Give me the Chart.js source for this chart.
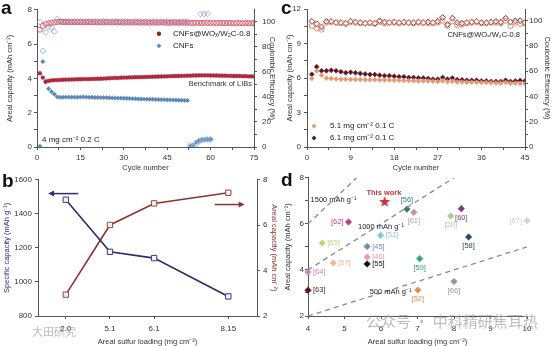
<!DOCTYPE html>
<html>
<head>
<meta charset="utf-8">
<script src="https://cdn.jsdelivr.net/npm/chart.js@4.4.1/dist/chart.umd.min.js"></script>
<style>
  body { margin: 0; background: #fff; }
  #wrap { position: relative; width: 554px; height: 346px; overflow: hidden; font-family: "Liberation Sans", Arial, sans-serif; }
  #wrap canvas { position: absolute; }
  .tag { position: absolute; font-size: 19px; font-weight: bold; color: #111; line-height: 19px; }
  .wm { position: absolute; white-space: nowrap; color: rgba(160,160,160,0.7); font-family: "Noto Sans CJK SC", sans-serif; }
</style>
</head>
<body>
<div id="wrap">
  <canvas id="chartA" width="280" height="172" style="left:0;top:0"></canvas>
  <canvas id="chartC" width="274" height="172" style="left:280px;top:0"></canvas>
  <canvas id="chartB" width="280" height="174" style="left:0;top:172px"></canvas>
  <canvas id="chartD" width="274" height="174" style="left:280px;top:172px"></canvas>
  <div class="tag" style="left:1px;top:-2px">a</div>
  <div class="tag" style="left:281px;top:-2px">c</div>
  <div class="tag" style="left:2px;top:171px">b</div>
  <div class="tag" style="left:281px;top:170px">d</div>
  <div class="wm" style="left:32px;top:323px;font-size:11px">大田研究</div>
  <div class="wm" style="left:366px;top:310px;font-size:15px">公众号 · 中科精研焦耳热</div>
</div>
<script>
// ---- panel a : 4 mg cm-2, 0.2 C (cycles start at 1)
const aRedCap = [
  4.30, 4.05, 3.82, 3.86, 3.88, 3.90, 3.90, 3.91, 3.92, 3.93,
  3.93, 3.94, 3.94, 3.95, 3.95, 3.96, 3.96, 3.96, 3.97, 3.97,
  3.98, 3.98, 3.99, 4.00, 4.01, 4.02, 4.03, 4.03, 4.04, 4.05,
  4.05, 4.06, 4.06, 4.07, 4.07, 4.08, 4.08, 4.09, 4.09, 4.10,
  4.10, 4.11, 4.11, 4.12, 4.12, 4.13, 4.13, 4.14, 4.14, 4.15,
  4.15, 4.16, 4.16, 4.17, 4.17, 4.18, 4.18, 4.18, 4.18, 4.17,
  4.17, 4.17, 4.16, 4.16, 4.16, 4.15, 4.15, 4.14, 4.14, 4.14,
  4.13, 4.13, 4.12, 4.12, 4.11
];
const aRedCE = [
  93.5, 96.5, 98.0, 98.5, 99.0, 99.3, 99.6, 99.8, 99.6, 99.5,
  99.4, 99.5, 99.6, 99.4, 99.5, 99.3, 99.4, 99.5, 99.3, 99.4,
  99.2, 99.4, 99.3, 99.5, 99.2, 99.3, 99.4, 99.2, 99.3, 99.1,
  99.3, 99.2, 99.1, 99.3, 99.2, 99.0, 99.2, 99.1, 99.0, 99.2,
  99.1, 99.0, 99.2, 99.0, 99.1, 98.9, 99.1, 99.0, 98.9, 99.1,
  99.0, 98.9, 99.0, 98.8, 99.0, 98.9, 98.8, 99.0, 98.9, 98.8,
  98.9, 98.7, 98.9, 98.8, 98.7, 98.9, 98.8, 98.6, 98.8, 98.7,
  98.6, 98.8, 98.7, 98.6, 98.7
];
const aBlueCap = [
  0.05, 4.98, 3.78, 3.40, 3.22, 3.08, 2.92, 2.90, 2.90, 2.91,
  2.91, 2.90, 2.91, 2.90, 2.91, 2.92, 2.91, 2.90, 2.90, 2.89,
  2.89, 2.88, 2.88, 2.87, 2.87, 2.86, 2.86, 2.85, 2.85, 2.84,
  2.84, 2.83, 2.82, 2.81, 2.80, 2.80, 2.79, 2.79, 2.78, 2.78,
  2.77, 2.77, 2.76, 2.76, 2.75, 2.75, 2.74, 2.74, 2.73, 2.73,
  2.72, 2.71
];
const aBlueCE = [
  99.5, 76.5, 91.5, 95.5, 95.0, 92.0, 102.0, 100.0, 99.8, 100.0,
  100.0, 99.8, 100.0, 99.9, 100.0, 99.8, 100.0, 99.9, 99.8, 100.0,
  99.9, 99.8, 100.0, 99.9, 99.8, 100.0, 99.9, 99.8, 99.9, 100.0,
  99.9, 99.8, 99.9, 100.0, 99.8, 99.9, 99.8, 99.9, 100.0, 99.8,
  99.9, 99.8, 99.9, 99.8, 100.0, 99.9, 99.8, 99.9, 99.8, 99.9,
  99.8, 99.9
];
// CNFs after failure, cycles 53-60
const aBlueCapTail = [0.05, 0.12, 0.28, 0.38, 0.42, 0.43, 0.44, 0.45];
const aBlueCETail = [1.5, 0.3, 2.5, 4.5, 5.5, 5.8, 6.0, 6.0];
const aBlueCEHighCycles = [56.5, 57.8, 59];
const aBlueCEHigh = [106, 106, 106];

// ---- panel b : rate vs sulfur loading
const bLoadings = ['2.0', '5.1', '6.1', '8.15'];
const bSlots = [1, 2, 3, 4.68];
const bSpecific = [1483, 1177, 1140, 915];
const bAreal = [2.94, 6.01, 6.96, 7.43];

// ---- panel c : 0.1 C, two loadings (cycles start at 1)
const cCap51 = [
  5.96, 6.6, 6.25, 5.98, 5.95, 5.92, 5.9, 5.9, 5.88, 5.87,
  5.86, 5.85, 5.85, 5.84, 5.83, 5.82, 5.82, 5.8, 5.8, 5.78,
  5.77, 5.76, 5.75, 5.74, 5.73, 5.72, 5.7, 5.75, 5.68, 5.72,
  5.66, 5.65, 5.64, 5.63, 5.62, 5.6, 5.6, 5.58, 5.57, 5.56,
  5.6, 5.55, 5.55, 5.53, 5.5
];
const cCap61 = [
  6.33, 6.97, 6.62, 6.62, 6.68, 6.62, 6.54, 6.45, 6.5, 6.45,
  6.4, 6.35, 6.3, 6.3, 6.25, 6.2, 6.2, 6.15, 6.1, 6.1,
  6.05, 6.05, 6.0, 6.0, 5.95, 5.9, 5.9, 6.05, 5.9, 6.0,
  5.85, 5.85, 5.8, 5.8, 5.8, 5.75, 5.75, 5.7, 5.7, 5.7,
  5.8, 5.7, 5.75, 5.78, 5.75
];
const cCE51 = [
  96, 94, 93, 98.5, 99, 98.5, 98, 97.5, 99, 98.5,
  98, 98, 98, 97.5, 99, 98, 98.5, 98.5, 98, 98.5,
  98.5, 98, 98.5, 98.5, 98, 98, 98.5, 100, 96, 99.5,
  96.5, 97, 98, 98.5, 99, 98, 98, 98.5, 98.5, 98,
  100, 96, 98.5, 97.5, 98
];
const cCE61 = [
  99.5, 97.5, 95, 99.5, 99.5, 98.5, 98.5, 98, 99.5, 99,
  98.5, 98, 98.5, 98, 100, 99, 98.5, 99, 98.5, 99,
  98.5, 98.5, 99, 98.5, 99, 98.5, 99.5, 102.5, 97, 102,
  98.5, 98, 98.5, 99, 99.5, 98.5, 98.5, 99, 99.5, 99,
  102, 99, 100, 100, 98.5
];

// ---- panel d : comparison with literature
const refLabels = ['[56]', '[61]', '[60]', '[20]', '[67]', '[58]', '[62]', '[51]', '[65]', '[45]', '[46]', '[55]', '[57]', '[59]', '[64]', '[63]', '[52]', '[66]'];
const refLoading = [6.71, 6.9, 8.2, 7.91, 10.0, 8.4, 5.11, 5.99, 4.39, 5.62, 5.62, 5.62, 4.69, 7.06, 4.0, 4.0, 7.01, 8.0];
const refAreal = [6.64, 6.5, 6.66, 6.34, 6.14, 5.43, 6.08, 5.5, 5.17, 5.02, 4.56, 4.26, 4.3, 4.49, 3.91, 3.12, 3.13, 3.5];
const refColors = ['#2e7d6e', '#b49aa8', '#7b3f80', '#a9c99a', '#cdd4d4', '#2e4a66', '#c2417e', '#7fcccc', '#cccc7a', '#6f8eaa', '#e79aac', '#111111', '#eab799', '#34a57a', '#c787b8', '#5a1426', '#d8904e', '#9a92b0'];
const refPlacement = ['above', 'below', 'below', 'below', 'left', 'below', 'left', 'right', 'right', 'right', 'right', 'right', 'right', 'below', 'right', 'right', 'below', 'below'];
const thisWorkLoading = [6.1];
const thisWorkAreal = [6.95];
const guide1500 = { x: [4, 5.333], y: [6, 8] };
const guide1000 = { x: [4, 8], y: [4, 8] };
const guide500 = { x: [4, 10], y: [2, 5] };

Chart.defaults.font.family = '"Liberation Sans", Arial, sans-serif';
Chart.defaults.font.size = 8;
Chart.defaults.color = '#333';
Chart.defaults.animation = false;
Chart.defaults.plugins.legend.display = false;
Chart.defaults.plugins.tooltip.enabled = false;

const AXIS = '#555';
const FONT = '"Liberation Sans", Arial, sans-serif';

function fixW(w) { return s => { s.width = w; }; }
function fixH(h) { return s => { s.height = h; }; }
function gridOpts() { return { drawOnChartArea: false, tickLength: 3, color: AXIS }; }
function borderOpts() { return { color: AXIS, width: 1 }; }
function titleOpts(text, pad, color) {
  return { display: true, text: text, color: color || '#333', font: { size: 7.5 }, padding: { top: pad, bottom: 0 } };
}
function byCycle(vals, first) { return vals.map((y, i) => ({ x: first + i, y: y })); }
function xy(xs, ys) { return ys.map((y, i) => ({ x: xs[i], y: y })); }

function label(ctx, s, x, y, align, color, font) {
  ctx.font = font || ('7.5px ' + FONT);
  ctx.fillStyle = color || '#333';
  ctx.textAlign = align || 'left';
  ctx.textBaseline = 'middle';
  ctx.fillText(s, x, y);
}
function dot(ctx, x, y, r, color, diamond) {
  ctx.fillStyle = color;
  ctx.beginPath();
  if (diamond) {
    ctx.moveTo(x - r, y); ctx.lineTo(x, y - r); ctx.lineTo(x + r, y); ctx.lineTo(x, y + r); ctx.closePath();
  } else {
    ctx.arc(x, y, r, 0, Math.PI * 2);
  }
  ctx.fill();
}
function arrow(ctx, x1, y1, x2, color) {
  const dir = x2 > x1 ? 1 : -1;
  ctx.strokeStyle = color; ctx.fillStyle = color; ctx.lineWidth = 1.5;
  ctx.beginPath(); ctx.moveTo(x1, y1); ctx.lineTo(x2 - dir * 4, y1); ctx.stroke();
  ctx.beginPath(); ctx.moveTo(x2, y1); ctx.lineTo(x2 - dir * 6, y1 - 3); ctx.lineTo(x2 - dir * 6, y1 + 3); ctx.closePath(); ctx.fill();
}
function starImage(size, color) {
  const c = document.createElement('canvas');
  c.width = c.height = size;
  const g = c.getContext('2d');
  g.fillStyle = color;
  g.beginPath();
  for (let i = 0; i < 10; i++) {
    const r = i % 2 ? size * 0.2 : size * 0.5;
    const a = -Math.PI / 2 + i * Math.PI / 5;
    g.lineTo(size / 2 + r * Math.cos(a), size / 2 + r * Math.sin(a));
  }
  g.closePath();
  g.fill();
  return c;
}

// ---------------- panel a
const textA = {
  id: 'textA',
  afterDatasetsDraw(chart) {
    const { ctx, chartArea: ca } = chart;
    ctx.save();
    label(ctx, 'Benchmark of LIBs', ca.right - 2, chart.scales.y.getPixelForValue(3.66), 'right');
    label(ctx, '4 mg cm⁻² 0.2 C', ca.left + 5, ca.bottom - 7, 'left', '#222', '8px ' + FONT);
    dot(ctx, ca.left + 122, ca.top + 24, 2.2, '#8e2233');
    label(ctx, 'CNFs@WOₓ/W₂C-0.8', ca.left + 136, ca.top + 24, 'left', '#222', '8px ' + FONT);
    dot(ctx, ca.left + 122, ca.top + 36, 2.4, '#5a89b8', true);
    label(ctx, 'CNFs', ca.left + 136, ca.top + 36, 'left', '#222', '8px ' + FONT);
    ctx.restore();
  }
};

new Chart(document.getElementById('chartA'), {
  type: 'scatter',
  data: {
    datasets: [
      { data: byCycle(aRedCE, 1), yAxisID: 'y2', pointStyle: 'circle', pointRadius: 2.6, pointBorderWidth: 0.9, borderColor: '#d65a6c', backgroundColor: 'rgba(255,255,255,0)' },
      { data: byCycle(aBlueCE, 1).concat(byCycle(aBlueCETail, 53), xy(aBlueCEHighCycles, aBlueCEHigh)), yAxisID: 'y2', pointStyle: 'rectRot', pointRadius: 2.9, pointBorderWidth: 0.9, borderColor: '#8fadcf', backgroundColor: 'rgba(255,255,255,0)' },
      { data: byCycle(aRedCap, 1), pointStyle: 'circle', pointRadius: 1.9, pointBorderWidth: 0.5, borderColor: '#a8263a', backgroundColor: '#b02a3e' },
      { data: byCycle(aBlueCap, 1).concat(byCycle(aBlueCapTail, 53)), pointStyle: 'rectRot', pointRadius: 2.2, pointBorderWidth: 0.5, borderColor: '#5a89b8', backgroundColor: '#5a89b8' }
    ]
  },
  options: {
    responsive: false,
    layout: { padding: { top: 9 } },
    scales: {
      x: { type: 'linear', min: 0, max: 75, afterFit: fixH(25),
        ticks: { stepSize: 7.5, padding: 3, autoSkip: false, maxRotation: 0, callback: v => (v % 15 === 0 ? String(v) : '') },
        grid: gridOpts(), border: borderOpts(), title: titleOpts('Cycle number', 0.5) },
      y: { type: 'linear', min: 0, max: 8, afterFit: fixW(37),
        ticks: { stepSize: 1, padding: 2, autoSkip: false, callback: v => (v % 2 === 0 ? String(v) : '') },
        grid: gridOpts(), border: borderOpts(), title: titleOpts('Areal capacity (mAh cm⁻²)', 5) },
      y2: { type: 'linear', position: 'right', min: 0, max: 109.3, afterFit: fixW(26),
        ticks: { stepSize: 10, includeBounds: false, padding: 5, autoSkip: false, callback: v => (v % 20 === 0 && v <= 100 ? String(v) : '') },
        grid: gridOpts(), border: borderOpts(), title: titleOpts('Coulombic Efficiency (%)', 3.5) }
    }
  },
  plugins: [textA]
});

// ---------------- panel c
const textC = {
  id: 'textC',
  afterDatasetsDraw(chart) {
    const { ctx, chartArea: ca } = chart;
    ctx.save();
    label(ctx, 'CNFs@WOₓ/W₂C-0.8', ca.right - 5, ca.top + 26, 'right', '#222', '7.5px ' + FONT);
    dot(ctx, ca.left + 7, ca.bottom - 21, 2.4, '#e39a72', true);
    label(ctx, '5.1 mg cm⁻² 0.1 C', ca.left + 23, ca.bottom - 21, 'left', '#222', '8px ' + FONT);
    dot(ctx, ca.left + 7, ca.bottom - 9, 2.4, '#5e1424', true);
    label(ctx, '6.1 mg cm⁻² 0.1 C', ca.left + 23, ca.bottom - 9, 'left', '#222', '8px ' + FONT);
    ctx.restore();
  }
};

new Chart(document.getElementById('chartC'), {
  type: 'scatter',
  data: {
    datasets: [
      { data: byCycle(cCE51, 1), yAxisID: 'y2', pointStyle: 'circle', pointRadius: 2.6, pointBorderWidth: 1, borderColor: '#e0876a', backgroundColor: 'rgba(255,255,255,0)' },
      { data: byCycle(cCE61, 1), yAxisID: 'y2', pointStyle: 'rectRot', pointRadius: 2.9, pointBorderWidth: 1, borderColor: '#7a2a35', backgroundColor: 'rgba(255,255,255,0)' },
      { data: byCycle(cCap51, 1), pointStyle: 'rectRot', pointRadius: 2.5, pointBorderWidth: 0.5, borderColor: '#e39a72', backgroundColor: '#e39a72' },
      { data: byCycle(cCap61, 1), pointStyle: 'rectRot', pointRadius: 2.5, pointBorderWidth: 0.5, borderColor: '#5e1424', backgroundColor: '#5e1424' }
    ]
  },
  options: {
    responsive: false,
    layout: { padding: { top: 9 } },
    scales: {
      x: { type: 'linear', min: 0, max: 45, afterFit: fixH(25),
        ticks: { stepSize: 4.5, padding: 3, autoSkip: false, maxRotation: 0, callback: v => (v % 9 === 0 ? String(v) : '') },
        grid: gridOpts(), border: borderOpts(), title: titleOpts('Cycle number', 0.5) },
      y: { type: 'linear', min: 0, max: 12, afterFit: fixW(27),
        ticks: { stepSize: 1.5, padding: 3, autoSkip: false, callback: v => (v % 3 === 0 ? String(v) : '') },
        grid: gridOpts(), border: borderOpts(), title: titleOpts('Areal capacity (mAh cm⁻²)', 5.5) },
      y2: { type: 'linear', position: 'right', min: 0, max: 109.3, afterFit: fixW(29),
        ticks: { stepSize: 10, includeBounds: false, padding: 1, autoSkip: false, callback: v => (v % 20 === 0 && v <= 100 ? String(v) : '') },
        grid: gridOpts(), border: borderOpts(), title: titleOpts('Coulombic Efficiency (%)', 2.5) }
    }
  },
  plugins: [textC]
});

// ---------------- panel b
const arrowsB = {
  id: 'arrowsB',
  afterDatasetsDraw(chart) {
    const { ctx, scales } = chart;
    ctx.save();
    arrow(ctx, scales.x.getPixelForValue(1.28), scales.y.getPixelForValue(1519), scales.x.getPixelForValue(0.6), '#2c2c6c');
    arrow(ctx, scales.x.getPixelForValue(4.37), scales.y2.getPixelForValue(6.91), scales.x.getPixelForValue(5.05), '#8c3434');
    ctx.restore();
  }
};

new Chart(document.getElementById('chartB'), {
  type: 'line',
  data: {
    datasets: [
      { data: xy(bSlots, bSpecific), yAxisID: 'y', borderColor: '#2c2c6c', borderWidth: 1.6, pointStyle: 'rect', pointRadius: 3.8, pointBorderWidth: 1, pointBorderColor: '#3a3a7a', pointBackgroundColor: '#f2f2f8' },
      { data: xy(bSlots, bAreal), yAxisID: 'y2', borderColor: '#8c3434', borderWidth: 1.6, pointStyle: 'rect', pointRadius: 3.8, pointBorderWidth: 1, pointBorderColor: '#9a4444', pointBackgroundColor: '#faf0f0' }
    ]
  },
  options: {
    responsive: false,
    layout: { padding: { top: 6 } },
    scales: {
      x: { type: 'linear', min: 0.37, max: 5.33, afterFit: fixH(30),
        afterBuildTicks: s => { s.ticks = bSlots.map(v => ({ value: v })); },
        ticks: { padding: 5, autoSkip: false, maxRotation: 0, callback: v => bLoadings[bSlots.indexOf(v)] },
        grid: gridOpts(), border: borderOpts(), title: titleOpts('Areal sulfur loading (mg cm⁻²)', 2.5) },
      y: { type: 'linear', min: 800, max: 1600, afterFit: fixW(38),
        ticks: { stepSize: 200, padding: 3, autoSkip: false, callback: v => String(v) },
        grid: gridOpts(), border: borderOpts(), title: titleOpts('Specific capacity (mAh g⁻¹)', 2.5, '#2c2c7a') },
      y2: { type: 'linear', position: 'right', min: 2, max: 8, afterFit: fixW(23),
        ticks: { stepSize: 2, padding: 3, autoSkip: false, callback: v => String(v) },
        grid: gridOpts(), border: borderOpts(), title: titleOpts('Areal capacity (mAh cm⁻²)', 1, '#8c2f2f') }
    }
  },
  plugins: [arrowsB]
});

// ---------------- panel d
const textD = {
  id: 'textD',
  afterDatasetsDraw(chart) {
    const { ctx, scales } = chart;
    const sx = v => scales.x.getPixelForValue(v);
    const sy = v => scales.y.getPixelForValue(v);
    ctx.save();
    chart.getDatasetMeta(3).data.forEach((pt, i) => {
      let x = pt.x, y = pt.y, align = 'center';
      const p = refPlacement[i];
      if (p === 'above') y -= 9;
      else if (p === 'below') y += 9;
      else if (p === 'right') { x += 5; align = 'left'; }
      else { x -= 5; align = 'right'; }
      label(ctx, refLabels[i], x, y, align, refColors[i], '7.5px ' + FONT);
    });
    label(ctx, '1500 mAh g⁻¹', sx(4.07), sy(7.02), 'left', '#222', '7.5px ' + FONT);
    label(ctx, '1000 mAh g⁻¹', sx(5.37), sy(5.86), 'left', '#222', '7.5px ' + FONT);
    label(ctx, '500 mAh g⁻¹', sx(5.69), sy(3.04), 'left', '#222', '7.5px ' + FONT);
    label(ctx, 'This work', sx(6.08), sy(7.36), 'center', '#c8323c', 'bold 7.5px ' + FONT);
    ctx.restore();
  }
};

const guideStyle = { showLine: true, pointRadius: 0, borderColor: '#8a8a8a', borderWidth: 1.3, borderDash: [5, 4] };

new Chart(document.getElementById('chartD'), {
  type: 'scatter',
  data: {
    datasets: [
      Object.assign({ data: xy(guide1500.x, guide1500.y) }, guideStyle),
      Object.assign({ data: xy(guide1000.x, guide1000.y) }, guideStyle),
      Object.assign({ data: xy(guide500.x, guide500.y) }, guideStyle),
      { data: xy(refLoading, refAreal), clip: false, pointStyle: 'rectRot', pointRadius: 3.3, pointBorderWidth: 0.5, backgroundColor: refColors, borderColor: refColors },
      { data: xy(thisWorkLoading, thisWorkAreal), clip: false, pointStyle: starImage(12, '#c8323c') }
    ]
  },
  options: {
    responsive: false,
    layout: { padding: { top: 5, right: 27 } },
    scales: {
      x: { type: 'linear', min: 4, max: 10, afterFit: fixH(30),
        ticks: { stepSize: 1, padding: 5, autoSkip: false, maxRotation: 0, callback: v => String(v) },
        grid: gridOpts(), border: borderOpts(), title: titleOpts('Areal sulfur loading (mg cm⁻²)', 2.5) },
      y: { type: 'linear', min: 2, max: 8, afterFit: fixW(28),
        ticks: { stepSize: 1, padding: 1, autoSkip: false, callback: v => (v % 2 === 0 ? String(v) : '') },
        grid: gridOpts(), border: borderOpts(), title: titleOpts('Areal capacity (mAh cm⁻²)', 3.8) }
    }
  },
  plugins: [textD]
});
</script>
</body>
</html>
